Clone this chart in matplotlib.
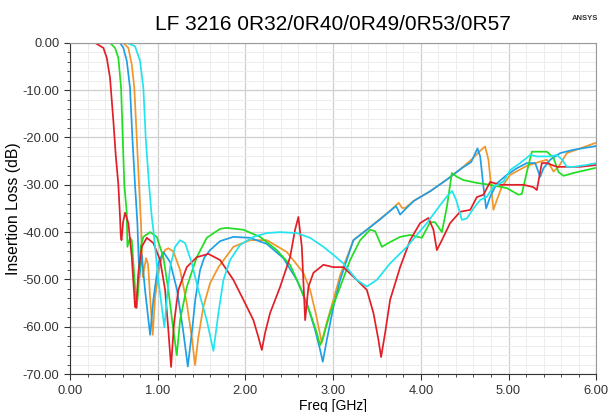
import numpy as np
import matplotlib.pyplot as plt
from matplotlib.ticker import MultipleLocator, FormatStrFormatter

plt.rcParams['font.family'] = ['Liberation Sans', 'DejaVu Sans']

# Curvas (freq em GHz, perda em dB)
f_red = [0, 0.285, 0.38, 0.419, 0.456, 0.494, 0.521, 0.551, 0.570, 0.578, 0.587, 0.605, 0.627, 0.665,
         0.704, 0.741, 0.753, 0.779, 0.818, 0.875, 0.950, 1.027, 1.084, 1.121, 1.152, 1.186, 1.235,
         1.331, 1.445, 1.578, 1.711, 1.863, 1.977, 2.091, 2.148, 2.187, 2.224, 2.281, 2.395, 2.509,
         2.566, 2.604, 2.643, 2.681, 2.718, 2.775, 2.889, 3.003, 3.117, 3.270, 3.384, 3.460, 3.517,
         3.547, 3.593, 3.650, 3.764, 3.878, 3.992, 4.087, 4.144, 4.183, 4.240, 4.334, 4.448, 4.563,
         4.639, 4.714, 4.791, 4.905, 5.019, 5.171, 5.285, 5.323, 5.380, 5.437, 5.551, 5.817, 6.0]
db_red = [0, 0, -1.06, -3.17, -7.4, -16.5, -23.7, -30.0, -36.8, -40.6, -41.7, -37.9, -35.9, -38.1,
          -45.3, -55.8, -56.0, -48.6, -43.1, -41.2, -42.3, -45.9, -52.2, -60.7, -68.5, -59.2, -52.2,
          -47.4, -45.3, -44.6, -45.9, -50.1, -54.3, -58.6, -62.2, -64.9, -61.3, -57.1, -51.6, -45.3,
          -39.5, -36.8, -43.1, -58.6, -51.6, -48.6, -46.9, -47.4, -47.4, -50.1, -52.2, -57.1, -62.8,
          -66.4, -61.3, -54.3, -47.4, -41.7, -38.1, -37.0, -39.5, -43.8, -41.7, -38.1, -35.7, -35.3,
          -32.6, -32.1, -29.4, -30.0, -30.0, -30.0, -30.5, -31.1, -25.4, -25.4, -26.2, -26.2, -25.8]

f_green = [0, 0.456, 0.513, 0.551, 0.582, 0.601, 0.619, 0.647, 0.654, 0.684, 0.704, 0.722, 0.741,
           0.761, 0.779, 0.806, 0.836, 0.913, 0.989, 1.064, 1.121, 1.178, 1.217, 1.255, 1.331, 1.445,
           1.559, 1.711, 1.787, 1.977, 2.167, 2.358, 2.509, 2.623, 2.738, 2.814, 2.852, 2.886, 2.966,
           3.080, 3.194, 3.308, 3.422, 3.479, 3.555, 3.650, 3.764, 3.878, 4.012, 4.106, 4.163, 4.240,
           4.297, 4.354, 4.411, 4.486, 4.639, 4.791, 4.981, 5.114, 5.152, 5.209, 5.266, 5.437, 5.513,
           5.570, 5.627, 5.741, 6.0]
db_green = [0, 0, -1.06, -3.17, -9.5, -20.1, -30.0, -35.9, -43.1, -41.2, -41.7, -46.5, -51.6,
            -56.0, -52.2, -43.1, -41.0, -40.0, -41.0, -45.3, -52.2, -60.7, -66.0, -58.6, -51.6, -45.3,
            -41.2, -39.3, -39.1, -39.5, -41.0, -43.8, -46.9, -51.6, -57.1, -61.3, -63.9, -62.2, -57.1,
            -51.6, -45.9, -41.7, -39.5, -39.8, -43.1, -42.1, -41.0, -40.6, -41.2, -37.9, -37.9, -40.0,
            -34.7, -27.5, -28.3, -29.0, -29.6, -30.0, -30.7, -32.1, -31.9, -27.3, -23.0, -23.0, -24.3,
            -27.3, -28.1, -27.5, -26.4]

f_blue = [0, 0.570, 0.608, 0.647, 0.684, 0.711, 0.741, 0.768, 0.790, 0.818, 0.855, 0.913, 0.950,
          1.007, 1.064, 1.141, 1.220, 1.289, 1.343, 1.392, 1.430, 1.483, 1.530, 1.597, 1.711, 1.863,
          2.053, 2.244, 2.433, 2.586, 2.700, 2.795, 2.852, 2.882, 2.928, 3.003, 3.080, 3.231, 3.384,
          3.536, 3.650, 3.718, 3.764, 3.821, 3.920, 4.112, 4.304, 4.458, 4.574, 4.646, 4.677, 4.714,
          4.745, 4.791, 4.867, 4.981, 5.095, 5.209, 5.304, 5.361, 5.399, 5.475, 5.589, 5.741, 6.0]
db_blue = [0, 0, -1.06, -3.8, -9.5, -20.1, -30.0, -38.1, -49.7, -44.8, -52.2, -61.7, -54.3,
           -46.5, -44.2, -46.3, -52.2, -60.7, -68.4, -60.7, -54.0, -48.0, -45.4, -43.8, -41.9, -41.0,
           -41.2, -42.5, -45.5, -50.1, -55.0, -60.7, -64.9, -67.4, -62.8, -55.8, -50.1, -41.7, -39.5,
           -37.3, -35.5, -34.5, -36.3, -35.2, -33.4, -31.3, -28.8, -26.6, -25.2, -22.3, -24.0, -30.4,
           -35.0, -32.5, -29.7, -27.9, -26.5, -25.4, -25.4, -28.3, -26.5, -24.7, -23.3, -22.6, -21.8]

f_orange = [0, 0.608, 0.665, 0.704, 0.733, 0.761, 0.787, 0.810, 0.829, 0.867, 0.890, 0.913, 0.943,
            0.970, 1.027, 1.084, 1.121, 1.178, 1.255, 1.331, 1.388, 1.426, 1.463, 1.520, 1.597, 1.692,
            1.863, 2.053, 2.244, 2.472, 2.661, 2.738, 2.806, 2.871, 2.920, 3.003, 3.080, 3.231, 3.384,
            3.536, 3.650, 3.747, 3.787, 3.821, 3.920, 4.112, 4.304, 4.458, 4.600, 4.665, 4.733, 4.771,
            4.810, 4.828, 4.867, 4.924, 5.019, 5.209, 5.361, 5.437, 5.513, 5.570, 5.665, 5.817, 6.0]
db_orange = [0, 0, -1.06, -4.6, -9.5, -20.1, -30.0, -38.5, -49.5, -45.5, -46.9, -53.7, -61.7,
             -53.7, -46.5, -43.8, -43.4, -44.1, -48.0, -55.0, -62.2, -68.1, -62.2, -55.8, -50.8, -47.4,
             -43.1, -41.7, -41.7, -44.2, -48.6, -52.2, -57.5, -63.4, -59.6, -54.3, -49.1, -41.7, -39.5,
             -37.2, -35.5, -33.8, -34.9, -34.9, -33.4, -31.3, -28.8, -26.6, -24.3, -23.0, -21.9, -24.7,
             -31.8, -35.3, -33.2, -30.4, -27.9, -26.0, -25.1, -24.7, -27.2, -26.2, -23.3, -22.3, -21.1]

f_cyan = [0, 0.647, 0.741, 0.798, 0.836, 0.863, 0.901, 0.932, 0.950, 1.007, 1.046, 1.076, 1.103,
          1.141, 1.198, 1.255, 1.312, 1.388, 1.463, 1.559, 1.635, 1.692, 1.749, 1.825, 1.939, 2.091,
          2.244, 2.395, 2.586, 2.738, 2.889, 3.003, 3.117, 3.270, 3.384, 3.498, 3.650, 3.841, 4.069,
          4.220, 4.300, 4.357, 4.403, 4.468, 4.525, 4.600, 4.677, 4.753, 4.828, 4.942, 5.019, 5.133,
          5.247, 5.323, 5.475, 5.551, 5.612, 5.665, 5.741, 5.893, 6.0]
db_cyan = [0, 0, -0.7, -3.8, -9.5, -20.1, -30.0, -36.8, -39.5, -50.1, -55.8, -60.1, -54.3,
           -47.4, -43.1, -41.7, -42.3, -46.5, -52.2, -58.6, -65.1, -57.1, -50.1, -45.9, -42.7, -41.0,
           -40.2, -40.0, -40.2, -41.2, -43.1, -44.8, -46.6, -50.1, -51.5, -50.1, -46.6, -43.1, -38.1,
           -34.3, -32.4, -31.3, -33.2, -37.4, -37.1, -35.0, -33.2, -32.5, -30.4, -29.3, -26.9, -25.4,
           -23.7, -24.0, -24.0, -23.7, -24.7, -26.2, -26.2, -25.8, -25.4]

curvas = [
    (f_orange, db_orange, '#f0962a'),
    (f_blue, db_blue, '#1fa0e6'),
    (f_green, db_green, '#22dd22'),
    (f_red, db_red, '#e21f26'),
    (f_cyan, db_cyan, '#22e4ee'),
]

fig = plt.figure(figsize=(6.09, 4.12), dpi=100)
ax = fig.add_axes([0.115, 0.092, 0.864, 0.804])

for f, db, cor in curvas:
    ax.plot(f, db, color=cor, lw=1.25)

ax.set_xlim(0, 6)
ax.set_ylim(-70, 0)
ax.xaxis.set_major_locator(MultipleLocator(1))
ax.xaxis.set_minor_locator(MultipleLocator(0.2))
ax.yaxis.set_major_locator(MultipleLocator(10))
ax.yaxis.set_minor_locator(MultipleLocator(2))
ax.xaxis.set_major_formatter(FormatStrFormatter('%.2f'))
ax.yaxis.set_major_formatter(FormatStrFormatter('%.2f'))
ax.grid(True, which='major', color='#cfcfcf', lw=0.9)
ax.grid(True, which='minor', color='#ececec', lw=0.7)
ax.set_axisbelow(True)
ax.tick_params(which='both', direction='out', labelsize=9.3, colors='#333333')
ax.tick_params(which='major', length=4)
ax.tick_params(which='minor', length=2.5)
for lado in ['top', 'right']:
    ax.spines[lado].set_color('#9a9a9a')
for lado in ['left', 'bottom']:
    ax.spines[lado].set_color('#333333')

ax.set_xlabel('Freq [GHz]', fontsize=10, labelpad=2)
ax.set_ylabel('Insertion Loss (dB)', fontsize=11.3, labelpad=1)
ax.set_title('LF 3216 0R32/0R40/0R49/0R53/0R57', fontsize=15, pad=9)
fig.text(0.96, 0.955, 'ANSYS', fontsize=5.5, fontweight='bold', color='#333333', ha='center', va='center')

plt.savefig('out.png', dpi=100)
